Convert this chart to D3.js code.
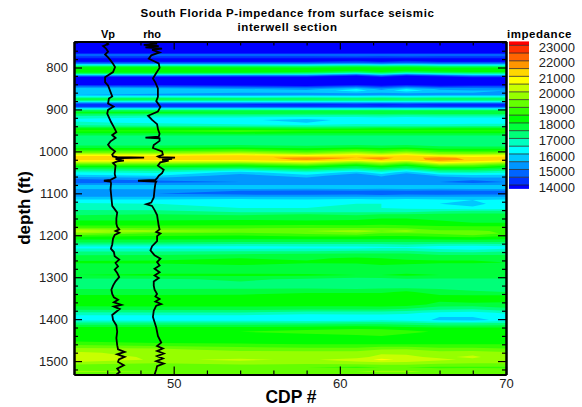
<!DOCTYPE html>
<html>
<head>
<meta charset="utf-8">
<script src="https://cdn.jsdelivr.net/npm/d3@7"></script>
<style>
  body { margin: 0; background: #fff; }
  svg { display: block; font-family: "Liberation Sans", Arial, sans-serif; }
</style>
</head>
<body>
<div id="chart"></div>
<script>
// DATA
const cdps = [44, 49, 54, 58, 61, 62.5, 64, 66, 68, 70];

const depths = [
  739, 764, 768, 771, 775, 780, 786, 790, 793, 797, 801, 806, 811, 815, 819, 824, 830, 836, 841, 846,
  851, 855, 860, 865, 870, 875, 880, 884, 889, 893, 898, 903, 907, 913, 919, 925, 932, 939, 945, 951,
  957, 963, 973, 982, 990, 998, 1005, 1010, 1015, 1020, 1025, 1030, 1035, 1042, 1050, 1058, 1066, 1073, 1080, 1087,
  1094, 1101, 1108, 1116, 1125, 1135, 1143, 1150, 1160, 1170, 1180, 1190, 1196, 1205, 1215, 1222, 1229, 1237, 1245, 1255,
  1265, 1275, 1285, 1295, 1305, 1315, 1325, 1335, 1345, 1355, 1365, 1375, 1385, 1395, 1402, 1410, 1420, 1430, 1440, 1450,
  1460, 1470, 1480, 1490, 1497, 1505, 1515, 1525, 1532,
];

const impedance = [
  [132, 132, 132, 132, 132, 132, 132, 132, 132, 132],
  [133, 133, 133, 133, 133, 133, 133, 133, 133, 133],
  [146, 146, 146, 146, 146, 146, 146, 146, 146, 146],
  [148, 148, 148, 148, 149, 148, 149, 148, 148, 148],
  [143, 143, 143, 143, 143, 143, 143, 143, 143, 143],
  [138, 138, 138, 138, 138, 138, 138, 138, 138, 138],
  [140, 140, 140, 140, 141, 140, 141, 140, 140, 140],
  [149, 149, 149, 149, 151, 149, 151, 149, 149, 149],
  [160, 160, 159, 159, 161, 159, 161, 159, 159, 159],
  [175, 175, 174, 173, 176, 174, 176, 173, 173, 173],
  [183, 183, 182, 181, 183, 182, 183, 181, 181, 181],
  [185, 185, 185, 184, 183, 184, 183, 184, 184, 184],
  [182, 182, 182, 180, 175, 180, 175, 178, 180, 180],
  [172, 172, 170, 168, 158, 168, 158, 164, 168, 168],
  [152, 152, 150, 150, 141, 150, 141, 146, 152, 152],
  [135, 135, 135, 135, 133, 136, 133, 135, 137, 137],
  [132, 132, 132, 132, 131, 132, 131, 132, 132, 132],
  [133, 133, 133, 132, 133, 132, 133, 132, 132, 133],
  [139, 138, 137, 134, 139, 135, 139, 135, 136, 137],
  [150, 148, 146, 144, 149, 144, 149, 144, 146, 146],
  [158, 158, 155, 153, 160, 153, 160, 154, 153, 152],
  [160, 160, 158, 156, 163, 156, 164, 156, 155, 155],
  [156, 156, 155, 155, 156, 155, 156, 155, 155, 154],
  [155, 154, 153, 153, 153, 153, 153, 153, 153, 153],
  [165, 165, 164, 165, 164, 165, 164, 165, 165, 165],
  [178, 177, 176, 176, 175, 176, 175, 176, 176, 176],
  [169, 168, 168, 168, 168, 168, 168, 168, 168, 168],
  [152, 152, 152, 152, 152, 152, 152, 152, 152, 152],
  [141, 140, 140, 139, 140, 139, 140, 139, 139, 139],
  [144, 143, 143, 143, 143, 143, 143, 143, 143, 143],
  [160, 160, 160, 160, 160, 160, 160, 160, 160, 160],
  [177, 177, 177, 176, 176, 177, 176, 177, 177, 177],
  [181, 181, 180, 180, 180, 180, 180, 180, 180, 180],
  [173, 172, 172, 171, 171, 172, 171, 172, 172, 172],
  [166, 165, 165, 164, 164, 165, 164, 165, 165, 165],
  [164, 163, 161, 158, 162, 160, 162, 161, 161, 161],
  [166, 164, 162, 160, 163, 162, 163, 162, 163, 163],
  [171, 170, 168, 167, 168, 168, 168, 168, 169, 169],
  [180, 180, 180, 179, 179, 180, 179, 180, 180, 180],
  [186, 186, 188, 186, 186, 186, 186, 186, 186, 186],
  [180, 180, 181, 180, 180, 180, 180, 180, 180, 180],
  [174, 174, 174, 174, 174, 174, 174, 174, 174, 174],
  [171, 171, 171, 171, 171, 171, 171, 171, 171, 171],
  [172, 172, 173, 172, 173, 172, 173, 172, 171, 171],
  [178, 178, 179, 177, 179, 178, 179, 176, 176, 176],
  [187, 187, 190, 186, 190, 187, 190, 185, 184, 185],
  [198, 198, 202, 196, 202, 197, 202, 195, 194, 196],
  [209, 209, 211, 208, 211, 209, 211, 206, 205, 207],
  [214, 213, 213, 217, 215, 217, 213, 217, 213, 213],
  [212, 211, 211, 216, 211, 215, 211, 218, 214, 212],
  [203, 203, 202, 207, 199, 205, 199, 212, 208, 204],
  [192, 192, 190, 196, 187, 194, 187, 201, 198, 192],
  [184, 184, 182, 186, 180, 185, 180, 190, 189, 184],
  [174, 174, 170, 176, 170, 175, 170, 178, 178, 175],
  [165, 166, 158, 165, 158, 164, 157, 167, 168, 166],
  [158, 160, 152, 158, 150, 156, 150, 156, 158, 158],
  [150, 152, 150, 152, 150, 152, 150, 152, 152, 152],
  [146, 148, 150, 150, 150, 150, 150, 150, 147, 150],
  [155, 155, 155, 155, 155, 155, 155, 155, 155, 155],
  [158, 158, 158, 158, 158, 158, 158, 158, 158, 158],
  [150, 151, 150, 149, 150, 149, 150, 149, 150, 150],
  [150, 150, 148, 147, 148, 146, 148, 147, 148, 148],
  [155, 155, 155, 155, 155, 155, 155, 155, 155, 155],
  [161, 161, 162, 161, 162, 161, 162, 161, 160, 161],
  [166, 165, 164, 164, 165, 165, 164, 160, 158, 163],
  [167, 166, 165, 165, 165, 165, 164, 163, 161, 162],
  [172, 172, 168, 168, 168, 168, 168, 170, 172, 172],
  [174, 175, 174, 175, 174, 175, 175, 176, 176, 176],
  [179, 179, 179, 179, 179, 180, 180, 179, 179, 179],
  [181, 181, 182, 181, 182, 182, 182, 181, 180, 180],
  [187, 187, 187, 188, 187, 188, 187, 186, 186, 186],
  [202, 197, 195, 195, 198, 195, 197, 191, 191, 189],
  [195, 189, 187, 191, 193, 189, 189, 191, 194, 189],
  [183, 183, 183, 183, 183, 183, 183, 184, 185, 183],
  [177, 177, 176, 176, 176, 176, 176, 176, 176, 176],
  [170, 170, 169, 169, 169, 169, 170, 168, 168, 169],
  [163, 163, 162, 163, 163, 164, 164, 162, 161, 162],
  [169, 169, 169, 169, 170, 170, 170, 168, 167, 169],
  [174, 174, 175, 176, 176, 176, 176, 174, 174, 174],
  [178, 179, 180, 179, 181, 180, 179, 179, 179, 179],
  [181, 181, 183, 181, 181, 183, 182, 181, 181, 180],
  [176, 177, 178, 176, 177, 178, 177, 176, 176, 176],
  [179, 178, 178, 177, 177, 178, 178, 178, 177, 177],
  [180, 181, 181, 181, 180, 180, 181, 180, 180, 180],
  [174, 174, 176, 174, 172, 173, 174, 174, 174, 174],
  [172, 172, 174, 172, 170, 170, 172, 172, 170, 170],
  [174, 174, 174, 174, 173, 174, 174, 174, 172, 172],
  [177, 177, 178, 179, 179, 179, 181, 177, 176, 175],
  [181, 181, 181, 183, 183, 183, 183, 181, 181, 181],
  [183, 183, 183, 183, 183, 185, 183, 181, 183, 181],
  [182, 182, 182, 182, 182, 183, 183, 178, 178, 179],
  [177, 178, 178, 177, 177, 177, 175, 172, 171, 174],
  [169, 169, 169, 167, 167, 167, 166, 164, 163, 166],
  [162, 162, 162, 161, 162, 162, 162, 160, 160, 161],
  [164, 163, 163, 162, 163, 164, 163, 159, 158, 162],
  [172, 172, 172, 172, 173, 173, 172, 170, 170, 171],
  [181, 181, 181, 182, 183, 182, 181, 180, 180, 180],
  [185, 185, 185, 187, 189, 189, 187, 184, 183, 183],
  [184, 183, 183, 183, 184, 185, 183, 183, 182, 182],
  [183, 181, 181, 181, 181, 181, 181, 181, 181, 181],
  [189, 187, 186, 185, 185, 185, 185, 185, 185, 185],
  [196, 195, 192, 191, 191, 194, 194, 191, 191, 190],
  [201, 198, 197, 197, 197, 198, 199, 197, 198, 196],
  [203, 199, 198, 197, 197, 203, 201, 199, 201, 197],
  [205, 199, 201, 199, 203, 206, 204, 201, 199, 198],
  [197, 195, 197, 196, 197, 198, 198, 196, 195, 195],
  [190, 190, 191, 190, 189, 190, 190, 189, 189, 189],
  [196, 195, 195, 194, 195, 196, 196, 194, 195, 194],
  [192, 192, 192, 192, 192, 192, 192, 192, 192, 192],
];

const levels = [14000, 14500, 15000, 15500, 16000, 16500, 17000, 17500, 18000, 18500, 19000,
  19500, 20000, 20500, 21000, 21500, 22000, 22500, 23000];

const bandColors = ["#0000ff", "#0032ff", "#0064ff", "#0096ff", "#00c8ff", "#00ffff", "#00ffc0", "#00ff78",
  "#00ff3c", "#00ff00", "#32ff00", "#64ff00", "#96ff00", "#c8ff00", "#ffff00", "#ffd700", "#ff9600", "#ff6400",
  "#ff3200", "#ff0000"];

const legendTicks = [14000, 15000, 16000, 17000, 18000, 19000, 20000, 21000, 22000, 23000];

// well logs, drawn in CDP coordinates
const vpDepths = [740, 744, 749, 755, 762, 769, 776, 783, 791, 799, 811, 823, 835, 843, 869, 874, 886, 893, 901, 910, 930,
  942, 954, 961, 968, 976, 984, 992, 1000, 1008, 1012, 1014, 1015, 1016, 1018, 1020, 1022, 1024, 1028, 1034, 1044, 1054, 1062, 1068,
  1070, 1072, 1076, 1090, 1110, 1130, 1146, 1160, 1172, 1180, 1186, 1190, 1194, 1199, 1208, 1222, 1232, 1240, 1250, 1258, 1266, 1274, 1282, 1290, 1300, 1310,
  1320, 1330, 1340, 1348, 1354, 1360, 1366, 1370, 1376, 1390, 1402, 1415, 1430, 1445, 1462, 1472, 1478, 1484, 1490, 1496, 1502, 1510, 1518, 1526, 1532];
const vpValues = [45.93, 46.05, 45.75, 45.93, 46.05, 45.87, 46.05, 46.2, 46.35, 46.47, 46.35, 45.87, 45.87, 46.05, 46.3, 46.1, 46.05, 46.38, 46.05, 46.0, 46.23,
  46.4, 46.55, 46.3, 46.5, 46.2, 46.05, 46.2, 46.47, 46.3, 46.35, 46.6, 48.22, 46.9, 46.5, 46.75, 47.0, 46.6, 46.35, 46.5, 46.47, 46.45, 46.5, 46.2,
  45.8, 46.2, 46.23, 46.2, 46.25, 46.3, 46.6, 46.55, 46.55, 46.6, 46.72, 46.5, 46.72, 46.45, 46.35, 46.3, 46.22, 46.4, 46.45, 46.72, 46.5, 46.65, 46.45, 46.6, 46.72, 46.5,
  46.35, 46.25, 46.3, 46.4, 46.65, 46.4, 46.85, 46.4, 46.75, 46.3, 46.35, 46.55, 46.6, 46.55, 46.6, 46.65, 47.05, 46.6, 47.05, 46.7, 46.65, 47.0, 46.6, 46.75, 46.55];

const rhoDepths = [740, 743, 746, 749, 752, 755, 758, 764, 771, 779, 790, 801, 813, 826, 836, 850, 870, 880, 894, 905, 915, 925, 935, 948, 958, 965, 967,
  969, 975, 985, 992, 1000, 1008, 1012, 1014, 1015, 1016, 1018, 1020, 1022, 1026, 1034, 1044, 1052, 1058, 1064, 1068, 1070, 1072, 1076, 1090, 1110, 1122, 1126, 1130, 1140, 1152, 1165, 1178,
  1186, 1192, 1196, 1202, 1214, 1226, 1236, 1248, 1256, 1264, 1272, 1280, 1288, 1296, 1302, 1310, 1320, 1330, 1340, 1346, 1352, 1358, 1364, 1368, 1380, 1395, 1420, 1440, 1456, 1464, 1470, 1476,
  1482, 1488, 1494, 1500, 1506, 1512, 1520, 1532];
const rhoValues = [48.55, 49.0, 48.2, 49.1, 48.3, 49.3, 48.7, 49.15, 48.65, 48.5, 49.1, 49.15, 48.95, 48.75, 48.9, 49.05, 49.05, 48.95, 49.2, 49.05, 48.46, 48.7, 49.0, 49.06, 49.15, 49.1, 48.3,
  49.15, 49.15, 48.8, 48.75, 49.3, 49.35, 49.05, 49.15, 50.08, 49.6, 49.9, 49.3, 49.7, 49.2, 49.05, 49.4, 49.3, 49.1, 49.0, 48.9, 47.85, 48.95, 48.9, 48.85, 48.8, 48.65, 48.35, 48.7, 48.85, 49.0, 49.05, 49.1,
  49.15, 48.95, 49.2, 49.0, 49.0, 48.7, 48.6, 48.85, 49.2, 49.0, 49.15, 48.85, 49.15, 48.85, 49.1, 48.8, 48.8, 48.85, 49.0, 48.9, 49.15, 48.9, 49.25, 48.95, 48.8, 48.75, 48.95, 49.05, 49.25, 49.0, 49.35, 49.0,
  49.4, 49.0, 49.35, 48.95, 49.4, 49.0, 48.95, 48.85];

// CANVAS SETUP
const width = 582,
  height = 407,
  margin = { top: 41.5, right: 76, bottom: 32.5, left: 74 };

const innerWidth = width - margin.left - margin.right,
  innerHeight = height - margin.top - margin.bottom;

const svg = d3.select("#chart").append("svg").attr("width", width).attr("height", height);

const xScale = d3.scaleLinear().domain([44, 70]).range([0, innerWidth]);
const yScale = d3.scaleLinear().domain([738, 1532]).range([0, innerHeight]);
const colorScale = d3.scaleThreshold().domain(levels).range(bandColors);

svg.append("clipPath").attr("id", "plotClip").append("rect").attr("width", innerWidth).attr("height", innerHeight);

const plot = svg.append("g").attr("transform", `translate(${margin.left},${margin.top})`);
const figureLayer = plot.append("g").attr("clip-path", "url(#plotClip)");

// RENDER
figureLayer.append("rect").attr("width", innerWidth).attr("height", innerHeight).attr("fill", bandColors[0]);

const flat = impedance.flat().map((d) => d * 100);
const contours = d3.contours().size([cdps.length, depths.length]).thresholds(levels)(flat);

// contour coordinates are grid indices with samples at i + 0.5
const colToX = d3.scaleLinear().domain(cdps.map((d, i) => i + 0.5)).range(cdps.map((d) => xScale(d)));
const rowToY = d3.scaleLinear().domain(depths.map((d, i) => i + 0.5)).range(depths.map((d) => yScale(d)));
const path = d3.geoPath(d3.geoTransform({
  point(x, y) {
    this.stream.point(colToX(x), rowToY(y));
  },
}));

figureLayer.selectAll("path.band")
  .data(contours)
  .join("path")
  .attr("class", "band")
  .attr("d", path)
  .attr("fill", (d) => colorScale(d.value));

const logLine = d3.line().x((d) => xScale(d[0])).y((d) => yScale(d[1]));
[[vpValues, vpDepths], [rhoValues, rhoDepths]].forEach(([vals, deps]) => {
  figureLayer.append("path")
    .attr("d", logLine(vals.map((v, i) => [v, deps[i]])))
    .attr("fill", "none")
    .attr("stroke", "#000")
    .attr("stroke-width", 1.8);
});

// AXES
const xMajor = [50, 60, 70], xMinor = [46, 48, 52, 54, 56, 58, 62, 64, 66, 68];
const yMajor = [800, 900, 1000, 1100, 1200, 1300, 1400, 1500];
const yMinor = [740, 760, 780, 820, 840, 860, 880, 920, 940, 960, 980, 1020, 1040, 1060, 1080, 1120, 1140, 1160, 1180,
  1220, 1240, 1260, 1280, 1320, 1340, 1360, 1380, 1420, 1440, 1460, 1480, 1520];

function styleAxis(g) {
  g.select(".domain").attr("stroke-width", 2);
  g.selectAll("line").attr("stroke-width", 1.2);
  g.selectAll("text").attr("font-size", 13).attr("fill", "#222");
  return g;
}

// tick-only axes carry no labels
function dropLabels(g) {
  g.selectAll("text").remove();
  return g;
}

const axes = plot.append("g");
axes.append("g").attr("transform", `translate(0,${innerHeight})`)
  .call(d3.axisBottom(xScale).tickValues(xMajor).tickSize(-8).tickSizeOuter(0).tickPadding(4).tickFormat(d3.format("d")))
  .call(styleAxis);
axes.append("g").attr("transform", `translate(0,${innerHeight})`)
  .call(d3.axisBottom(xScale).tickValues(xMinor).tickSize(-4).tickSizeOuter(0))
  .call(styleAxis).call(dropLabels);
axes.append("g")
  .call(d3.axisTop(xScale).tickValues(xMajor).tickSize(-8).tickSizeOuter(0))
  .call(styleAxis).call(dropLabels);
axes.append("g")
  .call(d3.axisTop(xScale).tickValues(xMinor).tickSize(-4).tickSizeOuter(0))
  .call(styleAxis).call(dropLabels);
axes.append("g")
  .call(d3.axisLeft(yScale).tickValues(yMajor).tickSize(-8).tickSizeOuter(0).tickPadding(6).tickFormat(d3.format("d")))
  .call(styleAxis);
axes.append("g")
  .call(d3.axisLeft(yScale).tickValues(yMinor).tickSize(-4).tickSizeOuter(0))
  .call(styleAxis).call(dropLabels);
axes.append("g").attr("transform", `translate(${innerWidth},0)`)
  .call(d3.axisRight(yScale).tickValues(yMajor).tickSize(-8).tickSizeOuter(0))
  .call(styleAxis).call(dropLabels);
axes.append("g").attr("transform", `translate(${innerWidth},0)`)
  .call(d3.axisRight(yScale).tickValues(yMinor).tickSize(-4).tickSizeOuter(0))
  .call(styleAxis).call(dropLabels);

// TITLES
svg.append("text").attr("x", 287.5).attr("y", 17).attr("text-anchor", "middle")
  .attr("font-size", 11.5).attr("font-weight", "bold").attr("letter-spacing", 0.58)
  .text("South Florida P-impedance from surface seismic");
svg.append("text").attr("x", 287.5).attr("y", 31).attr("text-anchor", "middle")
  .attr("font-size", 11.5).attr("font-weight", "bold").attr("letter-spacing", 0.58)
  .text("interwell section");
svg.append("text").attr("x", 108).attr("y", 38).attr("text-anchor", "middle")
  .attr("font-size", 11).attr("font-weight", "bold").text("Vp");
svg.append("text").attr("x", 152).attr("y", 38).attr("text-anchor", "middle")
  .attr("font-size", 11).attr("font-weight", "bold").text("rho");
svg.append("text").attr("x", 291).attr("y", 402.5).attr("text-anchor", "middle")
  .attr("font-size", 17.5).attr("font-weight", "bold").text("CDP #");
svg.append("text").attr("transform", "translate(30,208) rotate(-90)").attr("text-anchor", "middle")
  .attr("font-size", 17).attr("font-weight", "bold").text("depth (ft)");

// LEGEND
const legendScale = d3.scaleLinear().domain([14000, 23000]).range([185, 45.3]);
const legend = svg.append("g");
const bandEdges = [13750].concat(levels, [23250]);

legend.selectAll("rect")
  .data(bandColors)
  .join("rect")
  .attr("x", 509)
  .attr("width", 20)
  .attr("y", (d, i) => legendScale(bandEdges[i + 1]))
  .attr("height", (d, i) => legendScale(bandEdges[i]) - legendScale(bandEdges[i + 1]))
  .attr("fill", (d) => d);

legend.selectAll("line")
  .data(levels)
  .join("line")
  .attr("x1", 509)
  .attr("x2", 529)
  .attr("y1", (d) => legendScale(d))
  .attr("y2", (d) => legendScale(d))
  .attr("stroke", "#222")
  .attr("stroke-opacity", 0.75);

legend.selectAll("text")
  .data(legendTicks)
  .join("text")
  .attr("x", 575)
  .attr("y", (d) => legendScale(d) + 2)
  .attr("dy", "0.35em")
  .attr("text-anchor", "end")
  .attr("font-size", 13)
  .attr("fill", "#222")
  .text((d) => d);

svg.append("text").attr("x", 507).attr("y", 38).attr("font-size", 11.5).attr("font-weight", "bold")
  .attr("letter-spacing", 0.55).text("impedance");
</script>
</body>
</html>
